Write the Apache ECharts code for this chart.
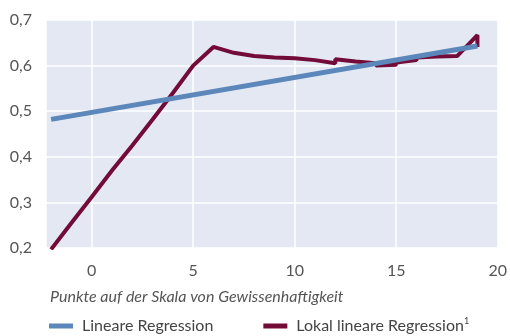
<!DOCTYPE html>
<html><head><meta charset="utf-8">
<script src="https://cdn.jsdelivr.net/npm/echarts@6/dist/echarts.min.js"></script>
<style>html,body{margin:0;padding:0;background:#fff}#c{width:510px;height:336px}</style>
</head><body><div id="c"></div>
<script>
var seriesNames = ['Lineare Regression', 'Lokal lineare Regression'];
var linearX = [-2, 19];
var linearY = [0.482, 0.643];
var localX = [-2, -1, 0, 1, 2, 3, 4, 5, 6, 7, 8, 9, 10, 11, 12, 12, 13, 14, 14, 15, 15, 16, 16, 17, 18, 19, 19];
var localY = [0.197, 0.255, 0.312, 0.37, 0.425, 0.482, 0.54, 0.6, 0.641, 0.628, 0.621, 0.618, 0.616, 0.612, 0.605, 0.614, 0.609, 0.605, 0.600, 0.602, 0.607, 0.612, 0.618, 0.620, 0.621, 0.667, 0.641];
var xAxisTitle = 'Punkte auf der Skala von Gewissenhaftigkeit';

function pairs(xs, ys){ return xs.map(function(x,i){ return [x, ys[i]]; }); }
var FONT = 'Lato';
var chart = echarts.init(document.getElementById('c'));
chart.setOption({
  animation: false,
  textStyle: {fontFamily: FONT},
  title: {text: xAxisTitle, left: 45, top: 284,
    textStyle: {fontFamily: FONT, fontStyle: 'italic', fontWeight: 'normal', fontSize: 16, color: '#555'}},
  legend: {
    left: 44, top: 312, itemWidth: 24, itemHeight: 5, itemGap: 50, icon: 'rect',
    data: seriesNames,
    formatter: function(n){ return n === seriesNames[1] ? '{a|' + n + '}{s|1}' : '{a|' + n + '}'; },
    textStyle: {fontFamily: FONT, color: '#444', fontSize: 16, padding: [0,0,0,4],
      rich: {a: {fontFamily: FONT, fontSize: 16, color: '#444'}, s: {fontFamily: FONT, fontSize: 9, color: '#444', verticalAlign: 'top', padding: [0,0,9,0]}}}
  },
  grid: {left: 46, right: 9, top: 20, bottom: 88, show: true, backgroundColor: '#e4e8f2', borderWidth: 0},
  xAxis: {type: 'value', min: -2.25, max: 20, splitNumber: 5,
    axisLine: {show: false}, axisTick: {show: false},
    axisLabel: {showMinLabel: false, color: '#555', fontSize: 16, fontFamily: FONT, margin: 15},
    splitLine: {lineStyle: {color: '#fff', width: 1.5}}},
  yAxis: {type: 'value', min: 0.2, max: 0.7, interval: 0.1,
    axisLine: {show: false}, axisTick: {show: false},
    axisLabel: {color: '#555', fontSize: 16, fontFamily: FONT, margin: 14,
      formatter: function(v){ return v.toFixed(1).replace('.', ','); }},
    splitLine: {lineStyle: {color: '#fff', width: 1.5}}},
  series: [
    {name: seriesNames[0], type: 'line', data: pairs(linearX, linearY), showSymbol: false,
      lineStyle: {color: '#5b87ba', width: 5}, itemStyle: {color: '#5b87ba'}, z: 3},
    {name: seriesNames[1], type: 'line', data: pairs(localX, localY), showSymbol: false,
      lineStyle: {color: '#720b37', width: 4}, itemStyle: {color: '#720b37'}, z: 2}
  ]
});
</script></body></html>
